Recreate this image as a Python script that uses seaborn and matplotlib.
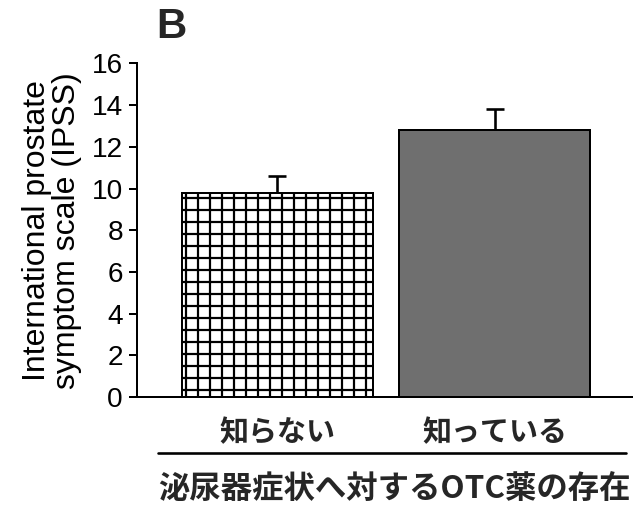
import matplotlib
matplotlib.use("Agg")
import matplotlib.pyplot as plt
from matplotlib.lines import Line2D
import seaborn as sns

# data
categories = ["知らない", "知っている"]
ipss_mean = [9.8, 12.8]
ipss_err = [0.8, 1.0]
yticks = [0, 2, 4, 6, 8, 10, 12, 14, 16]

sns.set_theme(style="white")
plt.rcParams["font.family"] = ["Liberation Sans", "Noto Sans CJK JP"]
plt.rcParams["hatch.linewidth"] = 1.1
plt.rcParams["hatch.color"] = "black"

DPI = 144
fig = plt.figure(figsize=(637 / DPI, 518 / DPI), dpi=DPI)
ax = fig.add_axes([0.215, 0.2336, 0.777, 0.644])

sns.barplot(x=categories, y=ipss_mean, hue=categories, palette=["white", "#6f6f6f"],
            edgecolor="black", linewidth=1.0, width=0.878, errorbar=None,
            legend=False, ax=ax)
ax.patches[0].set_hatch("++")

# upper error bars only (no cap on the bar top)
eb = ax.errorbar(range(len(categories)), ipss_mean, yerr=[[0, 0], ipss_err],
                 fmt="none", ecolor="black", elinewidth=1.3, capsize=4.5, capthick=1.3)
eb[1][0].set_visible(False)

ax.set_xlim(-0.646, 1.63)
ax.set_ylim(0, 16)
ax.set_yticks(yticks)
ax.tick_params(axis="y", left=True, length=4, width=1, direction="out",
               labelsize=14, pad=3, colors="black")
ax.tick_params(axis="x", bottom=False, pad=4)
for lab in ax.get_xticklabels():
    lab.set_fontfamily(["Noto Sans CJK JP"])
    lab.set_fontweight("bold")
    lab.set_fontsize(14.5)
for side in ("top", "right"):
    ax.spines[side].set_visible(False)
for side in ("left", "bottom"):
    ax.spines[side].set_color("black")
    ax.spines[side].set_linewidth(1.0)

ax.set_ylabel("International prostate\nsymptom scale (IPSS)", fontsize=16,
              color="black", labelpad=5, linespacing=1.0)

# group line and group title below the tick labels
fig.add_artist(Line2D([158 / 637, 626 / 637], [1 - 453 / 518, 1 - 453 / 518],
                      color="black", lw=1.3))
fig.text(394 / 637, 1 - 490 / 518, "泌尿器症状へ対するOTC薬の存在",
         ha="center", va="center", fontsize=15.7, fontweight="bold",
         family=["Noto Sans CJK JP"])
fig.text(156 / 637, 1 - 27 / 518, "B", ha="left", va="center",
         fontsize=21, fontweight="bold")

fig.savefig("out.png", dpi=DPI)
